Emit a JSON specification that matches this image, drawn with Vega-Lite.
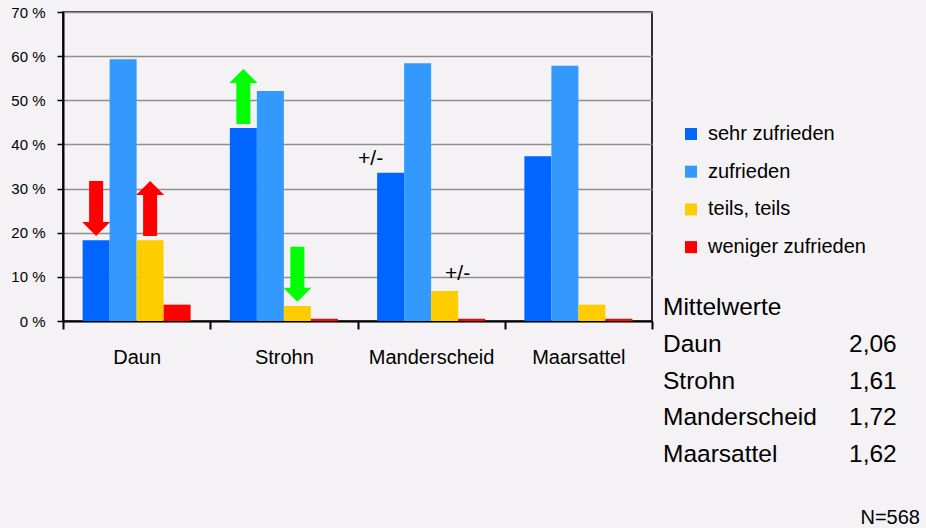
{
  "$schema": "https://vega.github.io/schema/vega-lite/v6.json",
  "width": 589,
  "height": 309,
  "autosize": "none",
  "padding": {"left": 63, "top": 12, "right": 274, "bottom": 207},
  "background": "#f4f2f4",
  "config": {
    "view": {"stroke": "#000000", "strokeWidth": 1.6, "fill": "#f4f2f4"},
    "font": "Liberation Sans",
    "text": {"font": "Liberation Sans", "color": "#000000"}
  },
  "datasets": {
    "anteile": [
      {"ort": "Daun", "kategorie": "sehr zufrieden", "prozent": 18.3},
      {"ort": "Daun", "kategorie": "zufrieden", "prozent": 59.3},
      {"ort": "Daun", "kategorie": "teils, teils", "prozent": 18.3},
      {"ort": "Daun", "kategorie": "weniger zufrieden", "prozent": 3.7},
      {"ort": "Strohn", "kategorie": "sehr zufrieden", "prozent": 43.7},
      {"ort": "Strohn", "kategorie": "zufrieden", "prozent": 52.1},
      {"ort": "Strohn", "kategorie": "teils, teils", "prozent": 3.4},
      {"ort": "Strohn", "kategorie": "weniger zufrieden", "prozent": 0.5},
      {"ort": "Manderscheid", "kategorie": "sehr zufrieden", "prozent": 33.6},
      {"ort": "Manderscheid", "kategorie": "zufrieden", "prozent": 58.4},
      {"ort": "Manderscheid", "kategorie": "teils, teils", "prozent": 6.8},
      {"ort": "Manderscheid", "kategorie": "weniger zufrieden", "prozent": 0.5},
      {"ort": "Maarsattel", "kategorie": "sehr zufrieden", "prozent": 37.3},
      {"ort": "Maarsattel", "kategorie": "zufrieden", "prozent": 57.8},
      {"ort": "Maarsattel", "kategorie": "teils, teils", "prozent": 3.7},
      {"ort": "Maarsattel", "kategorie": "weniger zufrieden", "prozent": 0.5}
    ],
    "pfeile": [
      {"ort": "Daun", "kategorie": "sehr zufrieden", "prozent": 18.3, "richtung": "runter", "tendenz": "schlechter"},
      {"ort": "Daun", "kategorie": "teils, teils", "prozent": 18.3, "richtung": "hoch", "tendenz": "schlechter"},
      {"ort": "Strohn", "kategorie": "sehr zufrieden", "prozent": 43.7, "richtung": "hoch", "tendenz": "besser"},
      {"ort": "Strohn", "kategorie": "teils, teils", "prozent": 3.4, "richtung": "runter", "tendenz": "besser"}
    ],
    "hinweise": [
      {"ort": "Manderscheid", "kategorie": "sehr zufrieden", "prozent": 33.6, "text": "+/-"},
      {"ort": "Manderscheid", "kategorie": "teils, teils", "prozent": 6.8, "text": "+/-"}
    ],
    "mittelwerte": [
      {"zeile": "Mittelwerte", "spalte": "name", "text": "Mittelwerte"},
      {"zeile": "Daun", "spalte": "name", "text": "Daun"},
      {"zeile": "Daun", "spalte": "wert", "text": "2,06"},
      {"zeile": "Strohn", "spalte": "name", "text": "Strohn"},
      {"zeile": "Strohn", "spalte": "wert", "text": "1,61"},
      {"zeile": "Manderscheid", "spalte": "name", "text": "Manderscheid"},
      {"zeile": "Manderscheid", "spalte": "wert", "text": "1,72"},
      {"zeile": "Maarsattel", "spalte": "name", "text": "Maarsattel"},
      {"zeile": "Maarsattel", "spalte": "wert", "text": "1,62"}
    ],
    "stichprobe": [{"text": "N=568"}]
  },
  "layer": [
    {
      "layer": [
        {
          "data": {"name": "anteile"},
          "mark": {"type": "bar"},
          "encoding": {
            "x": {
              "field": "ort", "type": "nominal",
              "sort": ["Daun", "Strohn", "Manderscheid", "Maarsattel"],
              "scale": {"paddingInner": 0, "paddingOuter": 0},
              "axis": {
                "title": null, "labelAngle": 0, "labelFont": "Liberation Sans", "labelFontSize": 20,
                "labelColor": "#000000", "labelPadding": 18, "tickBand": "extent", "tickSize": 8,
                "tickWidth": 2, "tickColor": "#000000", "domainColor": "#000000", "domainWidth": 2, "grid": false
              }
            },
            "xOffset": {
              "field": "kategorie", "type": "nominal",
              "sort": ["sehr zufrieden", "zufrieden", "teils, teils", "weniger zufrieden"],
              "scale": {"paddingInner": 0, "paddingOuter": 0.727}
            },
            "y": {
              "field": "prozent", "type": "quantitative",
              "scale": {"domain": [0, 70], "nice": false},
              "axis": {
                "title": null, "values": [0, 10, 20, 30, 40, 50, 60, 70],
                "labelExpr": "datum.value + ' %'", "labelFont": "Liberation Sans", "labelFontSize": 15,
                "labelColor": "#000000", "labelPadding": 12, "tickSize": 6, "tickColor": "#000000",
                "tickWidth": 1.5, "domainColor": "#000000", "domainWidth": 2, "grid": true,
                "gridColor": "#8e8e8e", "gridWidth": 1.5
              }
            },
            "color": {
              "field": "kategorie", "type": "nominal",
              "scale": {
                "domain": ["sehr zufrieden", "zufrieden", "teils, teils", "weniger zufrieden"],
                "range": ["#0066ff", "#3399ff", "#ffcc00", "#ff0000"]
              },
              "legend": {
                "orient": "none", "legendX": 618, "legendY": 112, "title": null,
                "labelFont": "Liberation Sans", "labelFontSize": 20, "labelColor": "#000000",
                "symbolType": "square", "symbolSize": 144, "symbolStrokeWidth": 0,
                "rowPadding": 17.7, "labelOffset": 7, "padding": 0
              }
            }
          }
        },
        {
          "data": {"name": "pfeile"},
          "mark": {"type": "point", "filled": true, "opacity": 1, "size": 3025, "strokeWidth": 0},
          "encoding": {
            "x": {"field": "ort", "type": "nominal", "sort": ["Daun", "Strohn", "Manderscheid", "Maarsattel"]},
            "xOffset": {"field": "kategorie", "type": "nominal", "sort": ["sehr zufrieden", "zufrieden", "teils, teils", "weniger zufrieden"]},
            "y": {"field": "prozent", "type": "quantitative"},
            "shape": {
              "field": "richtung", "type": "nominal",
              "scale": {
                "domain": ["runter", "hoch"],
                "range": [
                  "M-0.255,-2.15L0.255,-2.15L0.255,-0.66L0.51,-0.66L0,-0.15L-0.51,-0.66L-0.255,-0.66Z",
                  "M-0.255,-0.15L0.255,-0.15L0.255,-1.64L0.51,-1.64L0,-2.15L-0.51,-1.64L-0.255,-1.64Z"
                ]
              },
              "legend": null
            },
            "fill": {
              "field": "tendenz", "type": "nominal",
              "scale": {"domain": ["schlechter", "besser"], "range": ["#ff0000", "#00ff00"]},
              "legend": null
            }
          }
        },
        {
          "data": {"name": "hinweise"},
          "transform": [{"filter": "datum.kategorie === 'sehr zufrieden'"}],
          "mark": {"type": "text", "font": "Liberation Sans", "fontSize": 21, "baseline": "middle", "dx": -20, "dy": -14, "color": "#000000"},
          "encoding": {
            "x": {"field": "ort", "type": "nominal", "sort": ["Daun", "Strohn", "Manderscheid", "Maarsattel"]},
            "xOffset": {"field": "kategorie", "type": "nominal", "sort": ["sehr zufrieden", "zufrieden", "teils, teils", "weniger zufrieden"]},
            "y": {"field": "prozent", "type": "quantitative"},
            "text": {"field": "text"}
          }
        },
        {
          "data": {"name": "hinweise"},
          "transform": [{"filter": "datum.kategorie === 'teils, teils'"}],
          "mark": {"type": "text", "font": "Liberation Sans", "fontSize": 21, "baseline": "middle", "dx": 13, "dy": -17, "color": "#000000"},
          "encoding": {
            "x": {"field": "ort", "type": "nominal", "sort": ["Daun", "Strohn", "Manderscheid", "Maarsattel"]},
            "xOffset": {"field": "kategorie", "type": "nominal", "sort": ["sehr zufrieden", "zufrieden", "teils, teils", "weniger zufrieden"]},
            "y": {"field": "prozent", "type": "quantitative"},
            "text": {"field": "text"}
          }
        }
      ]
    },
    {
      "data": {"name": "mittelwerte"},
      "mark": {"type": "text", "align": "left", "baseline": "alphabetic", "font": "Liberation Sans", "fontSize": 24.5, "color": "#000000"},
      "encoding": {
        "x": {"field": "spalte", "type": "nominal", "scale": {"type": "point", "domain": ["name", "wert"], "range": [600, 786], "padding": 0}, "axis": null},
        "y": {"field": "zeile", "type": "nominal", "scale": {"type": "point", "domain": ["Mittelwerte", "Daun", "Strohn", "Manderscheid", "Maarsattel"], "range": [303, 450], "padding": 0}, "axis": null},
        "text": {"field": "text"}
      }
    },
    {
      "data": {"name": "stichprobe"},
      "mark": {"type": "text", "align": "right", "baseline": "alphabetic", "font": "Liberation Sans", "fontSize": 20, "color": "#000000"},
      "encoding": {
        "x": {"field": "text", "type": "nominal", "scale": {"type": "point", "range": [857, 857], "padding": 0}, "axis": null},
        "y": {"field": "text", "type": "nominal", "scale": {"type": "point", "range": [512, 512], "padding": 0}, "axis": null},
        "text": {"field": "text"}
      }
    }
  ],
  "resolve": {"scale": {"x": "independent", "y": "independent"}}
}
